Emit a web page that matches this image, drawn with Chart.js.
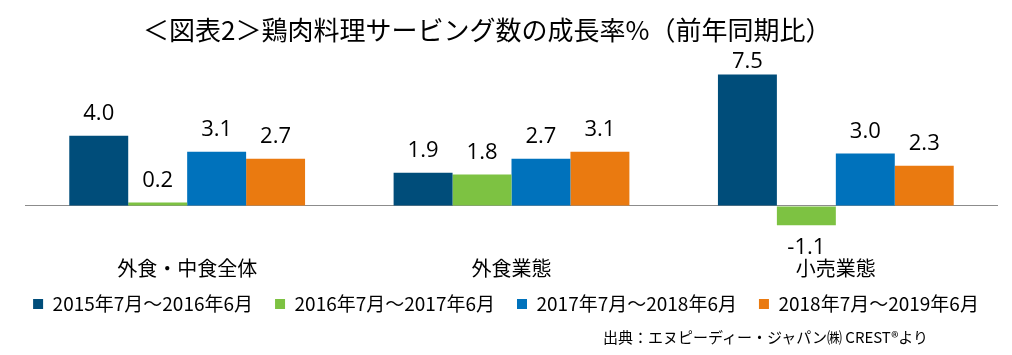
<!DOCTYPE html>
<html>
<head>
<meta charset="utf-8">
<script src="https://cdn.jsdelivr.net/npm/chart.js@4/dist/chart.umd.min.js"></script>
<style>
  html, body { margin: 0; padding: 0; background: #ffffff; }
  #wrap { position: relative; width: 1012px; height: 355px; overflow: hidden; background: #fff; }
  #chart { position: absolute; left: 0; top: 0; }
  .txt { position: absolute; font-family: "Noto Sans CJK JP", "Noto Sans", sans-serif; color: #000; white-space: nowrap; }
  #title { left: 143px; top: 14px; font-size: 26px; line-height: 30px; }
  #source { left: 603px; top: 328px; font-size: 15px; line-height: 18px; }
</style>
</head>
<body>
<div id="wrap">
  <canvas id="chart" width="1012" height="355"></canvas>
  <div id="title" class="txt">＜図表2＞鶏肉料理サービング数の成長率%（前年同期比）</div>
  <div id="source" class="txt">出典：エヌピーディー・ジャパン㈱ CREST®より</div>
</div>
<script>
const categories = ["外食・中食全体", "外食業態", "小売業態"];
const seriesNames = ["2015年7月～2016年6月", "2016年7月～2017年6月", "2017年7月～2018年6月", "2018年7月～2019年6月"];
const s2015 = [4.0, 1.9, 7.5];
const s2016 = [0.2, 1.8, -1.1];
const s2017 = [3.1, 2.7, 3.0];
const s2018 = [2.7, 3.1, 2.3];
const seriesColors = ["#004D7A", "#7DC242", "#0072BC", "#EA7A10"];

const seriesValues = [s2015, s2016, s2017, s2018];

const valueLabels = {
  id: 'valueLabels',
  afterDatasetsDraw(chart) {
    const ctx = chart.ctx;
    const area = chart.chartArea;
    ctx.save();
    ctx.font = '22px "Open Sans", "Noto Sans", sans-serif';
    ctx.fillStyle = '#000';
    ctx.textAlign = 'center';
    ctx.textBaseline = 'middle';
    chart.data.datasets.forEach((ds, i) => {
      const meta = chart.getDatasetMeta(i);
      meta.data.forEach((el, j) => {
        const v = ds.data[j];
        let y = v >= 0 ? el.y - 22 : el.y + 22;
        // keep labels inside the plot area (like the original)
        y = Math.max(y, area.top + 4.5);
        ctx.fillText(v.toFixed(1), el.x, y);
      });
    });
    ctx.restore();
  }
};

// pull the legend row up a little so it sits close under the category labels
const legendShift = {
  id: 'legendShift',
  afterLayout(chart) {
    if (chart.legend) {
      chart.legend.top -= 14.4;
      chart.legend.bottom -= 14.4;
    }
  }
};

new Chart(document.getElementById('chart'), {
  type: 'bar',
  data: {
    labels: categories,
    datasets: seriesNames.map((name, i) => ({
      label: name,
      data: seriesValues[i],
      backgroundColor: seriesColors[i],
      borderWidth: 0,
      categoryPercentage: 0.727,
      barPercentage: 1.0,
      yAxisID: 'y'
    }))
  },
  options: {
    responsive: false,
    animation: false,
    layout: { padding: { top: 57, bottom: 17.2, left: 0, right: 0 } },
    plugins: {
      legend: {
        position: 'bottom',
        labels: {
          boxWidth: 10,
          boxHeight: 10,
          padding: 22,
          color: '#000',
          font: { family: '"Noto Sans CJK JP", "Noto Sans", sans-serif', size: 19 }
        }
      },
      tooltip: { enabled: false },
      title: { display: false }
    },
    scales: {
      x: {
        grid: { display: false, drawTicks: false, tickLength: 0 },
        border: { display: false },
        ticks: {
          color: '#000',
          padding: 0,
          font: { family: '"Noto Sans CJK JP", "Noto Sans", sans-serif', size: 20 }
        },
        afterFit(axis) { axis.height = 30; }
      },
      y: {
        min: -2.9,
        max: 8.5,
        border: { display: false },
        ticks: { display: false },
        grid: {
          drawTicks: false,
          color: '#8C8C8C',
          lineWidth: 1
        },
        afterBuildTicks(axis) { axis.ticks = [{ value: 0 }]; },
        afterFit(axis) { axis.width = 25; }
      },
      y2: {
        position: 'right',
        display: true,
        border: { display: false },
        ticks: { display: false },
        grid: { display: false },
        afterFit(axis) { axis.width = 14; }
      }
    }
  },
  plugins: [valueLabels, legendShift]
});
</script>
</body>
</html>
